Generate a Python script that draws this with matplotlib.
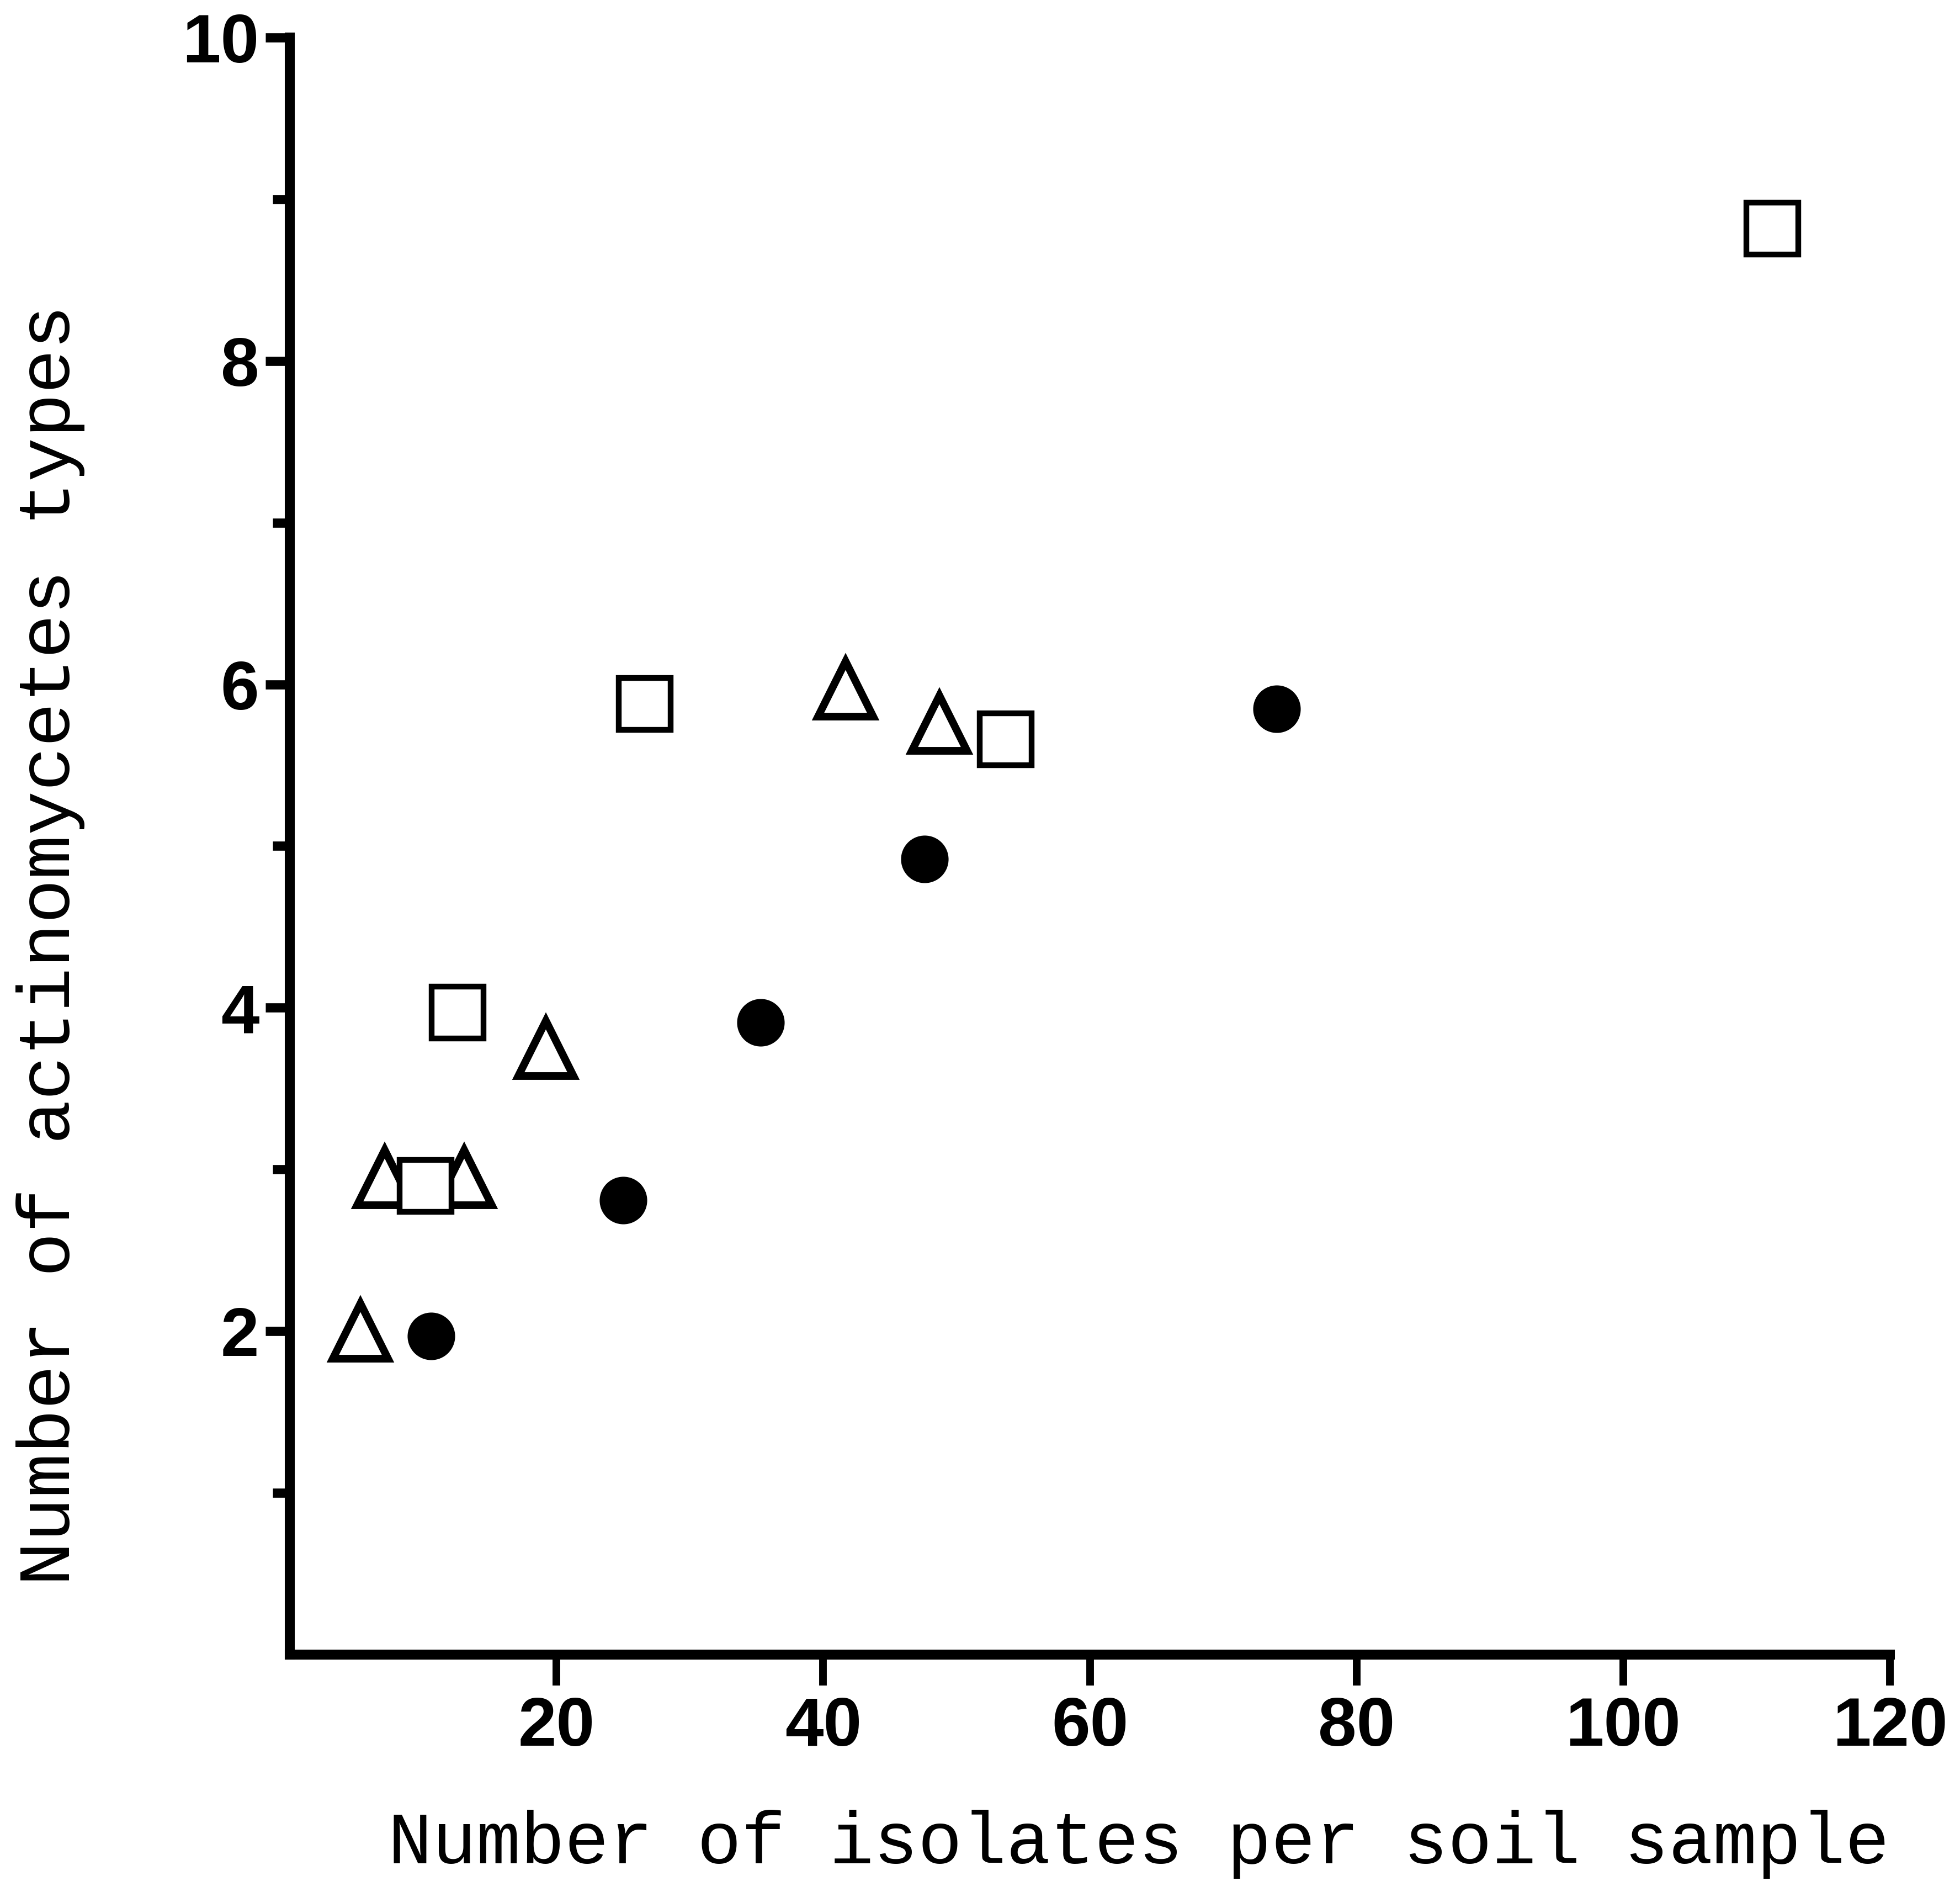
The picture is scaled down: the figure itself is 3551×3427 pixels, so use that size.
import matplotlib
matplotlib.use("Agg")
import matplotlib.pyplot as plt
from matplotlib.ticker import FixedLocator

# Data
tri_x = [5.3, 7.1, 13.1, 19.2, 41.7, 48.7]
tri_y = [2.0, 2.95, 2.95, 3.75, 5.97, 5.76]
sq_x = [10.2, 12.6, 26.6, 53.7, 111.2]
sq_y = [2.9, 3.97, 5.88, 5.66, 8.82]
circ_x = [10.6, 25.0, 35.3, 47.6, 74.0]
circ_y = [1.97, 2.81, 3.91, 4.92, 5.85]

x_ticks = [20, 40, 60, 80, 100, 120]
y_major = [2, 4, 6, 8, 10]
y_minor = [1, 3, 5, 7, 9]

xlabel = "Number of isolates per soil sample"
ylabel = "Number of actinomycetes types"

DPI = 100
fig = plt.figure(figsize=(35.51, 34.27), dpi=DPI)
W, H = 3551, 3427
left, right = 525 / W, 3424 / W
bottom, top = 1 - 2997 / H, 1 - 68 / H
ax = fig.add_axes([left, bottom, right - left, top - bottom])

ax.plot(tri_x, tri_y, linestyle="none", marker="^", markersize=72,
        markerfacecolor="white", markeredgecolor="black", markeredgewidth=10, zorder=3)
ax.plot(sq_x, sq_y, linestyle="none", marker="s", markersize=67,
        markerfacecolor="white", markeredgecolor="black", markeredgewidth=7.5, zorder=3)
ax.plot(circ_x, circ_y, linestyle="none", marker="o", markersize=61,
        markerfacecolor="black", markeredgecolor="black", markeredgewidth=1, zorder=3)

ax.set_xlim(0, 120)
ax.set_ylim(0, 10)
for s in ["top", "right"]:
    ax.spines[s].set_visible(False)
for s in ["left", "bottom"]:
    ax.spines[s].set_linewidth(13)
    ax.spines[s].set_capstyle("projecting")

ax.xaxis.set_major_locator(FixedLocator(x_ticks))
ax.yaxis.set_major_locator(FixedLocator(y_major))
ax.yaxis.set_minor_locator(FixedLocator(y_minor))

tickfont = dict(family="Liberation Sans", weight="bold", size=90)
ax.set_xticklabels([str(v) for v in x_ticks], fontdict=tickfont)
ax.set_yticklabels([str(v) for v in y_major], fontdict=tickfont)

ax.tick_params(axis="x", which="major", direction="out", length=40, width=10, pad=14)
ax.tick_params(axis="y", which="major", direction="out", length=32, width=12, pad=8)
ax.tick_params(axis="y", which="minor", direction="out", length=22, width=12)

labfont = dict(family="Liberation Mono", size=96)
ax.set_xlabel(xlabel, fontdict=labfont, va="center", ha="center")
ax.xaxis.set_label_coords(0.5305, -0.1174)
ax.set_ylabel(ylabel, fontdict=labfont, va="center", ha="center")
ax.yaxis.set_label_coords(-0.1497, 0.4387)

fig.savefig("out.png", dpi=DPI, facecolor="white")
